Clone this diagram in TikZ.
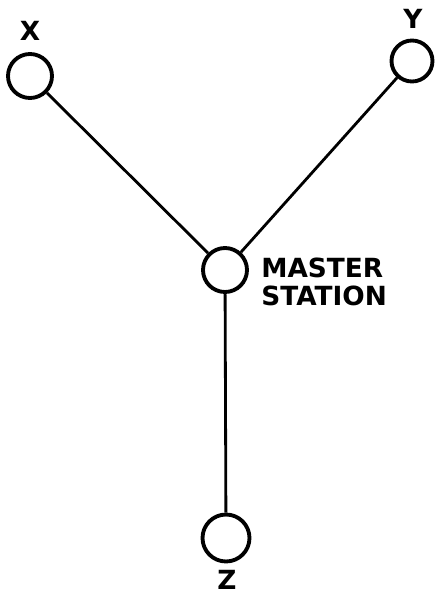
\documentclass[tikz,border=0pt]{standalone}
\usepackage{fontspec}
\setsansfont{DejaVu Sans}
\tikzset{
  station/.style={circle, draw, line width=2.2pt, minimum size=0.88cm, inner sep=0pt},
  link/.style={line width=1.6pt},
  tag/.style={font=\sffamily\bfseries\fontsize{15}{15.8}\selectfont, inner sep=0pt}
}
\begin{document}
\begin{tikzpicture}[x=0.02cm,y=-0.02cm]
    \useasboundingbox (0,0) rectangle (435,595);
    \node[station] (x) at (30,76) {};
    \node[station, minimum size=0.82cm] (y) at (412,61) {};
    \node[station] (master) at (225,270) {};
    \node[station, minimum size=0.94cm] (z) at (226,538) {};
    \node[tag] (xlab) at (30,31) {X};
    \node[tag] (ylab) at (413,19) {Y};
    \node[tag] (zlab) at (227,580) {Z};
    \node[tag, anchor=west, align=left] (mlab) at (261,282) {MASTER\\ STATION};
    \draw[link] (x) -- (master);
    \draw[link] (y) -- (master);
    \draw[link] (master) -- (z);
\end{tikzpicture}
\end{document}
